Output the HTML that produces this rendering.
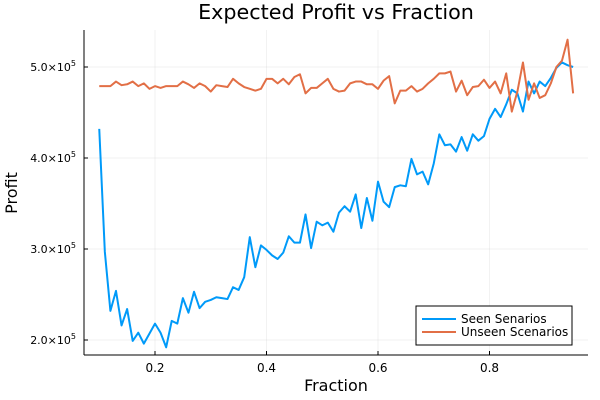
<!DOCTYPE html>
<html><head><meta charset="utf-8"><style>
body{margin:0;background:#fff;}
svg{display:block;font-family:"DejaVu Sans","Liberation Sans",sans-serif;}
</style></head><body>
<svg id="chart" width="600" height="400">
<rect width="600" height="400" fill="#fff"/>
<g id="grid"></g>
<g id="axes"></g>
<g id="series"></g>
<text x="336" y="19" text-anchor="middle" font-size="20.7" fill="#000">Expected Profit vs Fraction</text>
<text x="336" y="391" text-anchor="middle" font-size="16" fill="#000">Fraction</text>
<text x="17" y="193" text-anchor="middle" font-size="16" fill="#000" transform="rotate(-90 17 193)">Profit</text>
<g>
<rect x="416" y="306" width="156" height="39" fill="#fff" stroke="#000" stroke-width="1"/>
<line x1="422" y1="319" x2="456" y2="319" stroke="#009af9" stroke-width="2"/>
<text x="461" y="323" font-size="12" fill="#000">Seen Senarios</text>
<line x1="422" y1="332" x2="456" y2="332" stroke="#e26f46" stroke-width="2"/>
<text x="461" y="336" font-size="12" fill="#000">Unseen Scenarios</text>
</g>
</svg>
<script>
const fractions = [];
for (let i = 10; i <= 95; i++) fractions.push(i / 100);
const seenProfitK = [432,297,232,254,216,234,199,208,196,207,218,208,192,221,218,246,230,253,235,242,244,247,246,245,258,255,269,313,280,304,299,293,289,296,314,307,307,338,301,330,326,329,319,340,347,341,360,323,356,331,374,352,346,368,370,369,399,382,385,371,394,426,414,415,407,423,408,426,419,424,443,454,445,459,475,471,451,484,471,484,479,488,499,505,502,500];
const unseenProfitK = [479,479,479,484,480,481,484,479,482,476,479,477,479,479,479,484,481,477,482,479,473,480,479,478,487,482,478,476,474,476,487,487,482,487,481,489,492,471,477,477,482,487,476,473,474,482,484,484,481,481,476,485,490,460,474,474,479,473,476,482,487,493,493,495,473,485,469,478,479,486,477,484,471,493,451,473,505,464,482,466,469,482,500,507,530,471];
const xTicks = [0.2, 0.4, 0.6, 0.8];
const yTicks = [200, 300, 400, 500];
const yTickLabels = ["2.0", "3.0", "4.0", "5.0"];

const NS = "http://www.w3.org/2000/svg";
const L = 84, R = 588, T = 30, B = 355;
function xs(v){ return 43.5 + v * 557.5; }
function ys(k){ return 67 + (500 - k) * 0.91; }
function mk(tag, attrs, parent){ const e = document.createElementNS(NS, tag); for (const k in attrs) e.setAttribute(k, attrs[k]); parent.appendChild(e); return e; }
const grid = document.getElementById('grid'), axes = document.getElementById('axes'), series = document.getElementById('series');

xTicks.forEach(t => {
  const g = mk('line', {x1: xs(t), x2: xs(t), y1: T, y2: B, stroke: '#000', 'stroke-opacity': 0.1, 'stroke-width': 0.5}, grid);
  
  
  const tk = mk('line', {x1: xs(t), x2: xs(t), y1: B, y2: B - 4, stroke: '#000', 'stroke-width': 1}, axes);
  
  
  const lb = mk('text', {x: xs(t), y: B + 17, 'text-anchor': 'middle', 'font-size': 12, fill: '#000'}, axes);
  lb.textContent = t.toFixed(1);
  
  
});
yTicks.forEach((t, i) => {
  const g = mk('line', {x1: L, x2: R, y1: ys(t), y2: ys(t), stroke: '#000', 'stroke-opacity': 0.1, 'stroke-width': 0.5}, grid);
  
  
  const tk = mk('line', {x1: L, x2: L + 4, y1: ys(t), y2: ys(t), stroke: '#000', 'stroke-width': 1}, axes);
  
  
  const lb = mk('text', {x: 76, y: ys(t) + 4, 'text-anchor': 'end', 'font-size': 11, fill: '#000'}, axes);
  lb.innerHTML = yTickLabels[i] + '×10<tspan dy="-5" font-size="8">5</tspan>';
  
  
});
const xa = mk('line', {x1: L, x2: R, y1: B, y2: B, stroke: '#000', 'stroke-width': 1}, axes);


const ya = mk('line', {x1: L, x2: L, y1: T, y2: B, stroke: '#000', 'stroke-width': 1}, axes);



function drawLine(vals, color, name){
  const pts = vals.map((v, i) => xs(fractions[i]).toFixed(2) + ',' + ys(v).toFixed(2)).join(' ');
  const p = mk('polyline', {points: pts, fill: 'none', stroke: color, 'stroke-width': 2, 'stroke-linejoin': 'round'}, series);
  
  
}
drawLine(seenProfitK, '#009af9', 'seen-scenarios-line');
drawLine(unseenProfitK, '#e26f46', 'unseen-scenarios-line');
</script>
</body></html>
